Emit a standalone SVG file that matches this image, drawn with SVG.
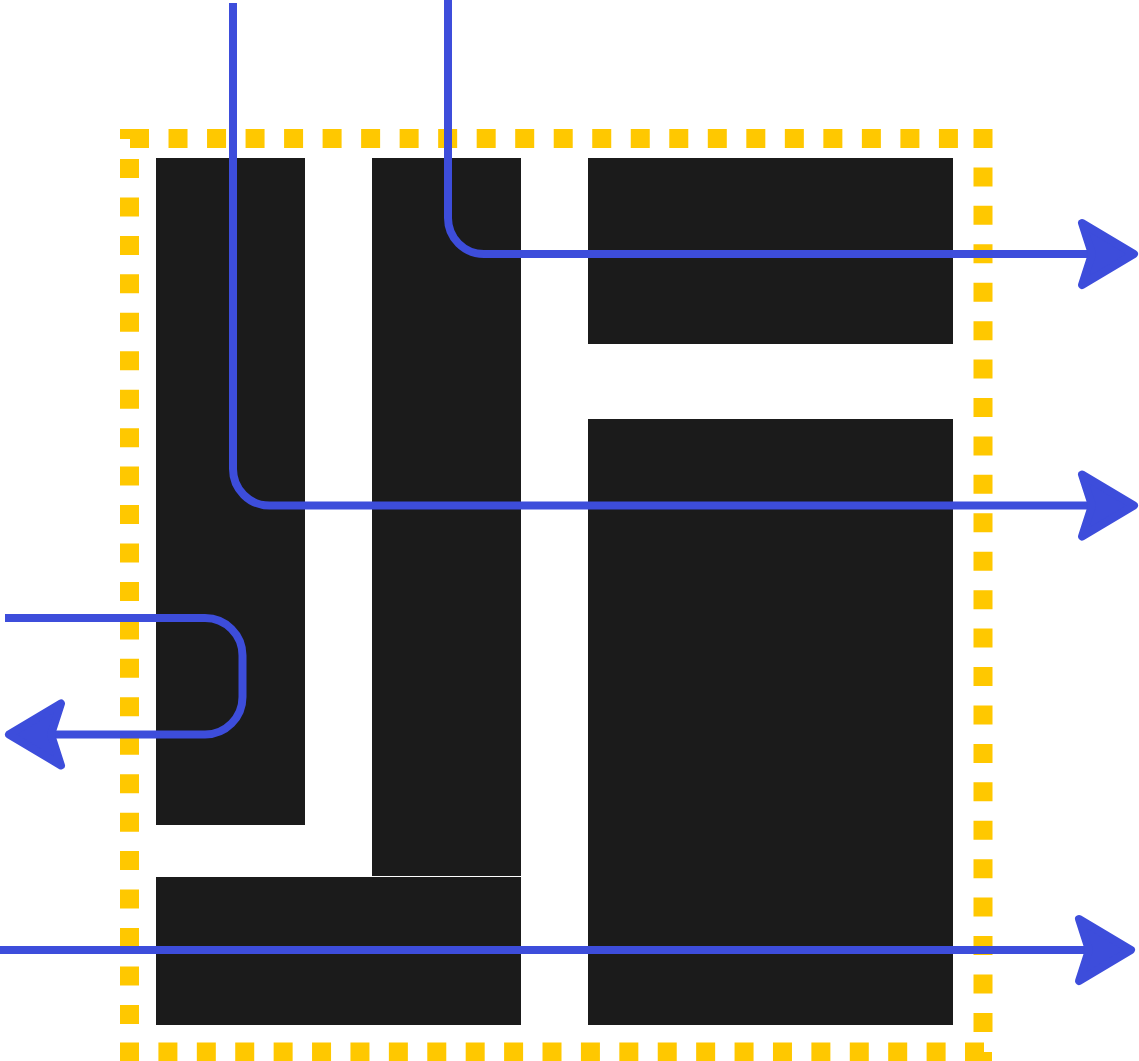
<svg xmlns="http://www.w3.org/2000/svg" xmlns:xlink="http://www.w3.org/1999/xlink" width="1139" height="1061" viewBox="0 0 1139 1061">
  <style>
    .blk { fill: #1b1b1b; }
    .dash { stroke: #ffc800; stroke-width: 19; fill: none; }
    .notch { fill: #ffc800; }
    .wire { stroke: #3d4ddb; stroke-width: 8; fill: none; }
    .head { fill: #3d4ddb; stroke: #3d4ddb; stroke-width: 8; stroke-linejoin: round; }
  </style>
  <defs>
    <polygon id="arrow" class="head" points="-56,-31 -4,0 -56,31 -46,0"/>
  </defs>
  <rect width="1139" height="1061" fill="#ffffff"/>

  <g id="border">
    <line class="dash" x1="130" y1="138.5" x2="958" y2="138.5" stroke-dasharray="19 19.52"/>
    <line class="dash" x1="983" y1="129" x2="983" y2="1032" stroke-dasharray="19 19.43"/>
    <line class="dash" x1="120" y1="1052" x2="984" y2="1052" stroke-dasharray="19 19.41"/>
    <line class="dash" x1="129.5" y1="159" x2="129.5" y2="1024" stroke-dasharray="19 19.45"/>
    <rect class="notch" x="120" y="129" width="10" height="10"/>
    <rect class="notch" x="983" y="1052" width="9" height="9"/>
  </g>

  <g id="block-1"><rect class="blk" x="156" y="158" width="149" height="667"/></g>
  <g id="block-2"><rect class="blk" x="372" y="158" width="149" height="718"/></g>
  <g id="block-3"><rect class="blk" x="588" y="158" width="365" height="186"/></g>
  <g id="block-4"><rect class="blk" x="588" y="419" width="365" height="606"/></g>
  <g id="block-5"><rect class="blk" x="156" y="877" width="365" height="148"/></g>

  <g id="connectors">
    <path class="wire" d="M448,0 V218 A36,36 0 0 0 484,254 H1095"/>
    <use xlink:href="#arrow" transform="translate(1138,254)"/>
    <path class="wire" d="M233,3 V469 A36.5,36.5 0 0 0 269.5,505.5 H1095"/>
    <use xlink:href="#arrow" transform="translate(1138,505.5)"/>
    <path class="wire" d="M5,618 H205 A37.5,37.5 0 0 1 242.5,655.5 V697 A37.5,37.5 0 0 1 205,734.5 H50"/>
    <use xlink:href="#arrow" transform="translate(5,734.5) rotate(180)"/>
    <path class="wire" d="M0,950 H1092"/>
    <use xlink:href="#arrow" transform="translate(1135,950)"/>
  </g>
</svg>
